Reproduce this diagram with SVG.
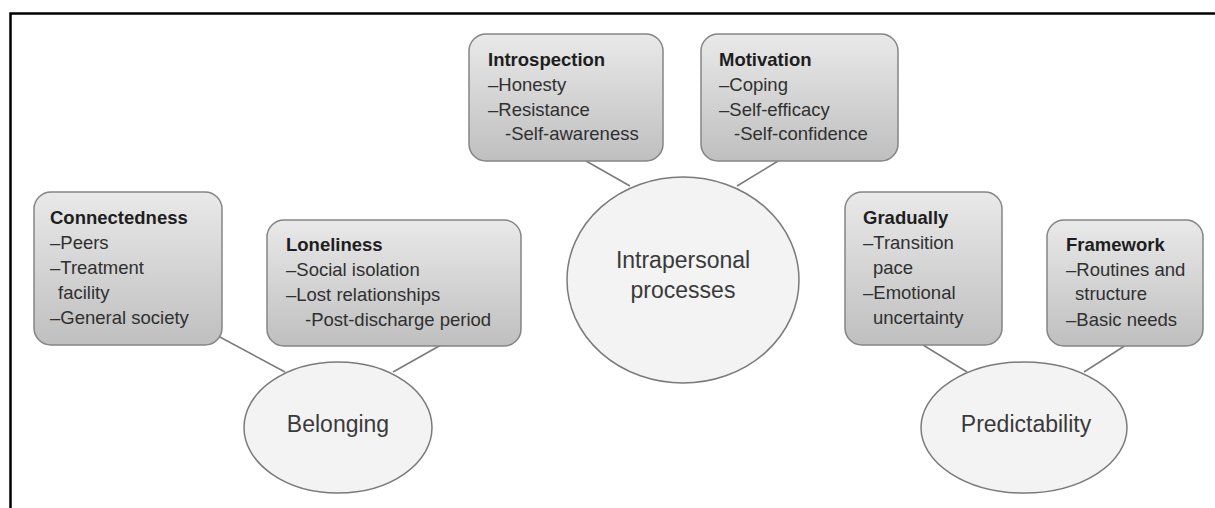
<svg xmlns="http://www.w3.org/2000/svg" width="1215" height="508" viewBox="0 0 1215 508">
<defs>
<linearGradient id="boxGrad" x1="0" y1="0" x2="0" y2="1">
<stop offset="0" stop-color="#e9e9e9"/>
<stop offset="1" stop-color="#bfbfbf"/>
</linearGradient>
</defs>
<style>
.box{fill:url(#boxGrad);stroke:#858585;stroke-width:1.5}
.oval{fill:#f3f3f3;stroke:#7a7a7a;stroke-width:1.5}
.conn{stroke:#7a7a7a;stroke-width:1.5;fill:none}
.frame{stroke:#000;stroke-width:2.5;fill:none}
text{font-family:"Liberation Sans",Arial,sans-serif}
.h{font-size:18.5px;font-weight:bold;fill:#1e1e1e}
.t{font-size:18.5px;fill:#303030}
.c{font-size:23px;fill:#3a3a3a;text-anchor:middle}
</style>
<rect width="1215" height="508" fill="#fff"/>
<path class="frame" d="M10.5 508 V13.5 H1215"/>
<g id="connectors">
<line class="conn" x1="586" y1="161" x2="630" y2="186"/>
<line class="conn" x1="778" y1="161" x2="737" y2="186"/>
<line class="conn" x1="218" y1="336" x2="285" y2="372"/>
<line class="conn" x1="441" y1="345" x2="393" y2="372"/>
<line class="conn" x1="923" y1="345" x2="967" y2="372"/>
<line class="conn" x1="1126" y1="345" x2="1084" y2="372"/>
</g>
<g id="introspection">
<rect class="box" x="469" y="34" width="194" height="127" rx="17"/>
<text class="h" x="488" y="66">Introspection</text>
<text class="t" x="488" y="91">–Honesty</text>
<text class="t" x="488" y="115.5">–Resistance</text>
<text class="t" x="505" y="140">-Self-awareness</text>
</g>
<g id="motivation">
<rect class="box" x="701" y="34" width="197" height="127" rx="17"/>
<text class="h" x="719" y="66">Motivation</text>
<text class="t" x="719" y="91">–Coping</text>
<text class="t" x="719" y="115.5">–Self-efficacy</text>
<text class="t" x="734" y="140">-Self-confidence</text>
</g>
<g id="connectedness">
<rect class="box" x="34" y="192" width="188" height="153" rx="17"/>
<text class="h" x="50" y="224">Connectedness</text>
<text class="t" x="50" y="249">–Peers</text>
<text class="t" x="50" y="274">–Treatment</text>
<text class="t" x="58" y="299">facility</text>
<text class="t" x="50" y="324">–General society</text>
</g>
<g id="loneliness">
<rect class="box" x="267" y="220" width="254" height="126" rx="17"/>
<text class="h" x="286" y="251">Loneliness</text>
<text class="t" x="286" y="276">–Social isolation</text>
<text class="t" x="286" y="301">–Lost relationships</text>
<text class="t" x="305" y="326">-Post-discharge period</text>
</g>
<g id="gradually">
<rect class="box" x="845" y="192" width="157" height="153" rx="17"/>
<text class="h" x="863" y="224">Gradually</text>
<text class="t" x="863" y="249">–Transition</text>
<text class="t" x="873" y="274">pace</text>
<text class="t" x="863" y="299">–Emotional</text>
<text class="t" x="873" y="324">uncertainty</text>
</g>
<g id="framework">
<rect class="box" x="1047" y="220" width="156" height="126" rx="17"/>
<text class="h" x="1066" y="251">Framework</text>
<text class="t" x="1066" y="276">–Routines and</text>
<text class="t" x="1075" y="300">structure</text>
<text class="t" x="1066" y="326">–Basic needs</text>
</g>
<g id="intrapersonal">
<ellipse class="oval" cx="683" cy="280" rx="116" ry="103"/>
<text class="c" x="683" y="268">Intrapersonal</text>
<text class="c" x="683" y="298">processes</text>
</g>
<g id="belonging">
<ellipse class="oval" cx="338" cy="427.5" rx="94" ry="65.5"/>
<text class="c" x="338" y="432">Belonging</text>
</g>
<g id="predictability">
<ellipse class="oval" cx="1024" cy="427.5" rx="103" ry="65.5"/>
<text class="c" x="1026" y="432">Predictability</text>
</g>
</svg>
